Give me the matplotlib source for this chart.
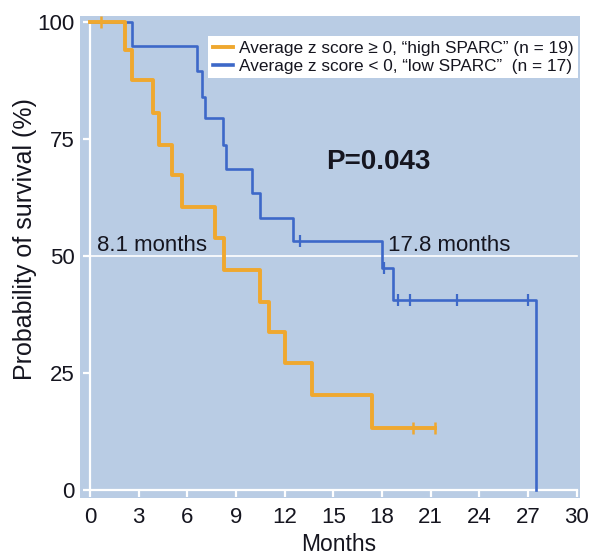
import matplotlib
matplotlib.use("Agg")
import matplotlib.pyplot as plt
from matplotlib.lines import Line2D

plt.rcParams['font.family'] = ['Liberation Sans', 'DejaVu Sans']

# Kaplan-Meier steps (months, % surviving)
high_t = [0, 2.16, 2.57, 3.90, 4.25, 5.03, 5.65, 7.71, 8.26, 10.47, 11.00, 12.00, 13.66, 17.36, 21.26]
high_s = [100, 94.0, 87.6, 80.5, 73.7, 67.3, 60.5, 53.8, 47.0, 40.2, 33.8, 27.1, 20.3, 13.2, 13.2]
high_cens_t = [0.66, 19.9, 21.26]
high_cens_s = [100, 13.2, 13.2]

low_t = [0, 2.57, 6.57, 6.88, 7.08, 8.17, 8.36, 9.96, 10.47, 12.53, 17.97, 18.69, 27.5]
low_s = [100, 94.9, 89.6, 84.0, 79.4, 73.7, 68.7, 63.5, 58.2, 53.2, 47.4, 40.6, 0]
low_cens_t = [12.94, 18.1, 19.0, 19.7, 22.6, 27.0]
low_cens_s = [53.2, 47.4, 40.6, 40.6, 40.6, 40.6]

labels = ['Average z score \u2265 0, \u201chigh SPARC\u201d (n = 19)',
          'Average z score < 0, \u201clow SPARC\u201d  (n = 17)']
xticks = list(range(0, 31, 3))
yticks = [0, 25, 50, 75, 100]

orange = '#EFA82F'
blue = '#3D68C8'
bg = '#B9CCE4'
txt = '#15151f'

fig = plt.figure(figsize=(5.94, 5.55), dpi=100)
ax = fig.add_axes([80/594, 57/555, 500/594, 482/555])
ax.set_facecolor(bg)
ax.set_xlim(-0.62, 30.2)
ax.set_ylim(-1.7, 101.3)

# median line
ax.plot([0, 30], [50, 50], color='white', lw=1.2, zorder=1)

ax.step(low_t, low_s, where='post', color=blue, lw=1.9, zorder=3)
ax.plot(low_cens_t, low_cens_s, ls='none', marker='|', ms=8, mew=1.6, color=blue, zorder=3)
ax.step(high_t, high_s, where='post', color=orange, lw=2.8, zorder=4)
ax.plot(high_cens_t, high_cens_s, ls='none', marker='|', ms=8, mew=1.8, color=orange, zorder=4)

for s in ['top', 'right']:
    ax.spines[s].set_visible(False)
ax.spines['left'].set_position(('data', 0))
ax.spines['left'].set_bounds(0, 100)
ax.spines['bottom'].set_position(('data', 0))
ax.spines['bottom'].set_bounds(0, 30)
for s in ['left', 'bottom']:
    ax.spines[s].set_color('white')
    ax.spines[s].set_linewidth(1.6)

ax.set_xticks(xticks)
ax.set_yticks(yticks)
ax.tick_params(direction='out', color='white', width=1.6, length=5,
               labelsize=16, labelcolor=txt)
ax.tick_params(axis='x', pad=7)
ax.tick_params(axis='y', pad=6)

ax.set_xlabel('Months', fontsize=16.5, color=txt)
ax.xaxis.set_label_coords(0.518, -0.072)
ax.set_ylabel('Probability of survival (%)', fontsize=18, color=txt)
ax.yaxis.set_label_coords(-0.085, 0.537)

ax.text(0.41, 51, '8.1 months', fontsize=16, color=txt, va='baseline', zorder=5)
ax.text(18.36, 51, '17.8 months', fontsize=16, color=txt, va='baseline', zorder=5)
ax.text(17.75, 70.1, 'P=0.043', fontsize=20, fontweight='bold', color=txt,
        ha='center', va='center', zorder=5)

handles = [Line2D([], [], color=orange, lw=2.8), Line2D([], [], color=blue, lw=2.6)]
leg = ax.legend(handles, labels, loc='upper right', bbox_to_anchor=(0.995, 0.958),
                borderaxespad=0, fontsize=12.4, frameon=True, fancybox=False,
                framealpha=1, edgecolor='none', facecolor='white',
                handlelength=1.2, handletextpad=0.3, labelspacing=0.2,
                borderpad=0.25)
for t in leg.get_texts():
    t.set_color(txt)

fig.savefig('out.png', dpi=100, facecolor='white')
